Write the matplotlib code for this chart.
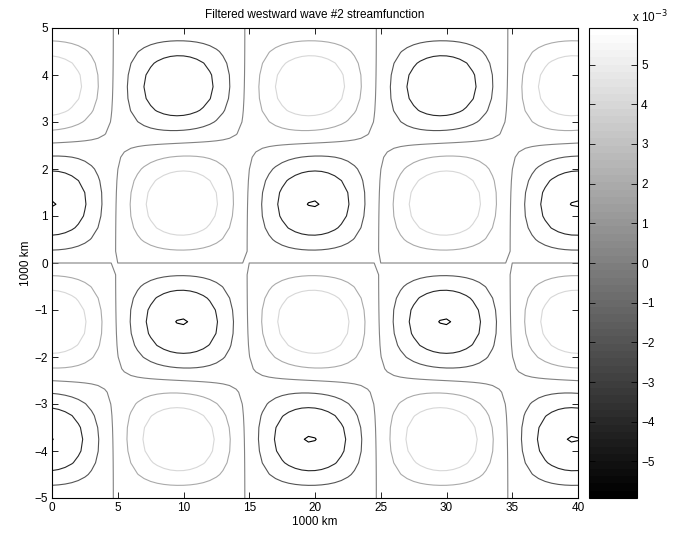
import numpy as np
import matplotlib
matplotlib.use("Agg")
import matplotlib.pyplot as plt
from matplotlib.colors import Normalize
from matplotlib.cm import ScalarMappable

# ---------------- data ----------------
title = "Filtered westward wave #2 streamfunction"
x_label = "1000 km"
y_label = "1000 km"
x_ticks = [0, 5, 10, 15, 20, 25, 30, 35, 40]
y_ticks = [-5, -4, -3, -2, -1, 0, 1, 2, 3, 4, 5]
cbar_ticks = [-5, -4, -3, -2, -1, 0, 1, 2, 3, 4, 5]        # x 1e-3
cbar_limits = [-5.92, 5.92]                                # x 1e-3
contour_levels = [-5.9, -3.93, -1.97, 0.0, 1.97, 3.93, 5.9]  # x 1e-3

# wave structure
wave_period = 20.0           # 1000 km (zonal wave #2 over 40 000 km)
phase_offset = -0.25         # 1000 km, centre of first cell
zero_rows = [-5.0, -2.5, 0.0, 2.55, 5.0]      # latitudes of nodal lines
row_centers = [-3.75, -1.25, 1.27, 3.78]
row_amplitudes = [5.97, 5.97, 5.97, 5.80]     # x 1e-3
tilt_fraction = 0.055        # weight of the quadrature component

# sampling grid of the field
grid_x = np.arange(0.0, 40.0 + 1e-9, 0.5)
grid_y = np.arange(-5.0, 5.0 + 1e-9, 0.25)

# ---------------- field ----------------
X, Y = np.meshgrid(grid_x, grid_y)
k = 2 * np.pi / wave_period
theta = np.interp(Y, zero_rows, [-2 * np.pi, -np.pi, 0.0, np.pi, 2 * np.pi])
env = np.interp(Y, row_centers, row_amplitudes) * 1e-3
a = -env * np.sin(theta)
b = -tilt_fraction * env * np.sin(theta / 2)
Z = a * np.cos(k * (X - phase_offset)) + b * np.sin(k * (X - phase_offset))

# ---------------- plot ----------------
plt.rcParams['font.family'] = ['Liberation Sans', 'DejaVu Sans']
plt.rcParams['axes.unicode_minus'] = True

W, H = 673, 535
fig = plt.figure(figsize=(W / 100, H / 100), dpi=100)
ax = fig.add_axes([52 / W, 1 - 498 / H, 526 / W, 470 / H])
cax = fig.add_axes([589 / W, 1 - 498 / H, 48 / W, 470 / H])

cmap = plt.get_cmap('gray', 64)
norm = Normalize(cbar_limits[0] * 1e-3, cbar_limits[1] * 1e-3)

ax.contour(X, Y, Z, levels=np.array(contour_levels) * 1e-3, cmap=cmap,
           norm=norm, linewidths=0.8)

ax.set_xlim(0, 40)
ax.set_ylim(-5, 5)
ax.set_xticks(x_ticks)
ax.set_yticks(y_ticks)
ax.tick_params(direction='in', length=4, width=0.6, top=True, right=True,
               labelsize=8.5, pad=3)
for s in ax.spines.values():
    s.set_linewidth(0.8)
ax.set_xlabel(x_label, fontsize=8.5, labelpad=1)
ax.set_ylabel(y_label, fontsize=8.5, labelpad=2)
ax.set_title(title, fontsize=8.5, pad=7)

sm = ScalarMappable(norm=norm, cmap=cmap)
cb = fig.colorbar(sm, cax=cax)
cb.set_ticks([t * 1e-3 for t in cbar_ticks])
cb.set_ticklabels([f"{t}".replace('-', '\u2212') for t in cbar_ticks])
cax.tick_params(direction='in', length=4, width=0.6, left=True, right=True,
                labelleft=False, labelright=True, labelsize=8.5, pad=3)
cb.outline.set_linewidth(0.8)
fig.text(668 / W, 1 - 17 / H, r"x 10$^{-3}$", fontsize=8.5, ha='right',
         va='center')

fig.savefig("out.png", dpi=100)
